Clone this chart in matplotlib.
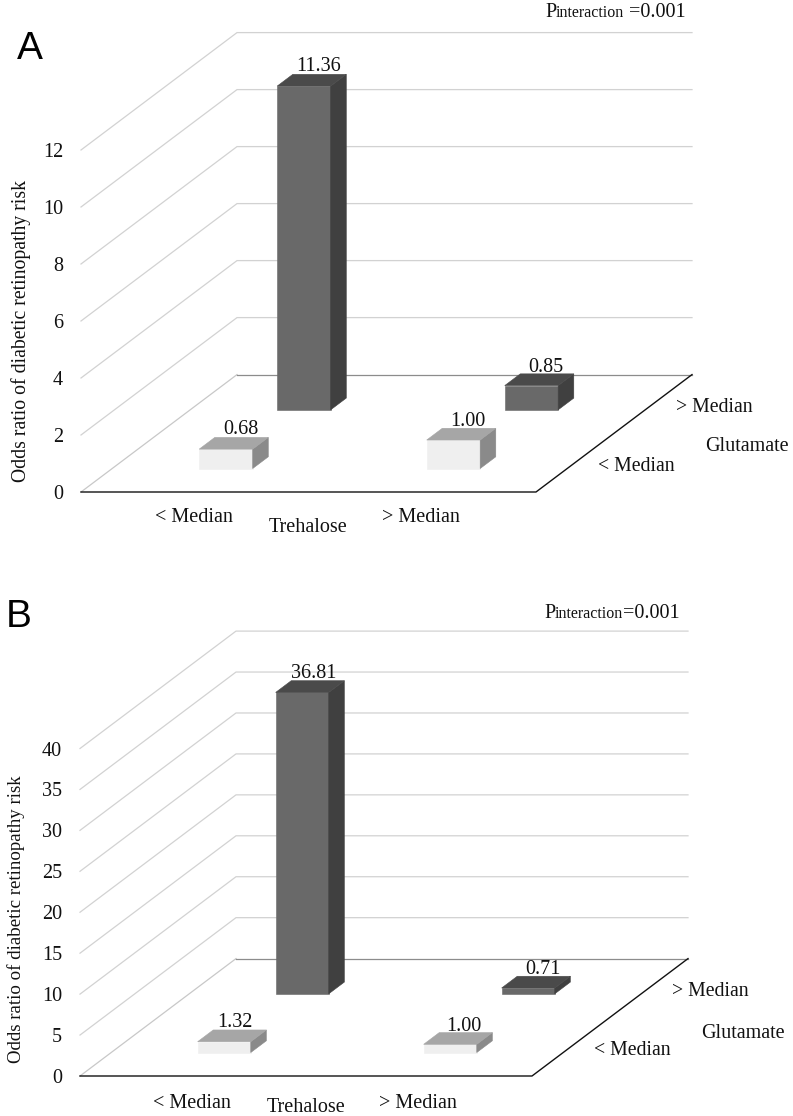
import matplotlib
matplotlib.use("Agg")
import matplotlib.pyplot as plt

plt.rcParams['font.family'] = ['Liberation Serif', 'DejaVu Serif']

W, H = 793, 1116

trehalose_levels = ["< Median", "> Median"]
glutamate_levels = ["< Median", "> Median"]

# rows are glutamate level, columns are trehalose level
odds_a = [[0.68, 1.00], [11.36, 0.85]]
odds_b = [[1.32, 1.00], [36.81, 0.71]]
ticks_a = [0, 2, 4, 6, 8, 10, 12]
ticks_b = [0, 5, 10, 15, 20, 25, 30, 35, 40]

ylabel = "Odds ratio of diabetic retinopathy risk"
xlabel = "Trehalose"
zlabel = "Glutamate"

BAR_W = 0.235
BAR_D = 0.2
DEPTH_X = 78  # px per glutamate row
DEPTH_Y = 58.7
FS = 14.5
INK = "#111111"

LIGHT = ("#efefef", "#a6a6a6", "#8a8a8a")
DARK = ("#696969", "#4a4a4a", "#404040")


def pinteraction(x, y, gap):
    # P and the value are set larger than the word in between
    r = fig.canvas.get_renderer()
    for s, size, extra in [("P", FS, 0), ("interaction", 11.5, gap), ("=0.001", FS, 0)]:
        t = fig.text(x / W, 1 - y / H, s, fontsize=size, ha="left", va="baseline", color=INK)
        x = t.get_window_extent(r).x1 + extra


def draw_panel(x0, y0, width, ymax_px, odds, ticks, letter, letter_xy, gap, pval_xy, ylab_xy, ylab_fs,
               cat_dy, xlab_dy, zlab_dy, nudges):
    ux = width / 2
    uy = ymax_px / ticks[-1]
    ddx = DEPTH_X / ux
    ddy = DEPTH_Y / uy
    top = ticks[-1] + 2 * ddy
    right = 2 + 2 * ddx
    ax = fig.add_axes([x0 / W, 1 - y0 / H, right * ux / W, top * uy / H])
    ax.set_xlim(0, right)
    ax.set_ylim(0, top)
    ax.axis("off")

    def proj(x, d, v):
        return x + d * ddx, v + d * ddy

    def label(x, d, v, s, dx, dy, **kw):
        ax.annotate(s, proj(x, d, v), xytext=(dx * 0.72, -dy * 0.72), textcoords="offset points",
                    annotation_clip=False, **kw)

    # walls
    for t in ticks[1:]:
        xs, ys = zip(proj(0, 0, t), proj(0, 2, t), proj(2, 2, t))
        ax.plot(xs, ys, color="#d2d2d2", lw=0.9, clip_on=False, zorder=1)
    xs, ys = zip(proj(0, 0, 0), proj(0, 2, 0))
    ax.plot(xs, ys, color="#c8c8c8", lw=0.9, clip_on=False, zorder=1)
    xs, ys = zip(proj(0, 2, 0), proj(2, 2, 0))
    ax.plot(xs, ys, color="#8c8c8c", lw=0.9, clip_on=False, zorder=1)
    # floor edges
    xs, ys = zip(proj(0, 0, 0), proj(2, 0, 0), proj(2, 2, 0))
    ax.plot(xs, ys, color=INK, lw=1.0, clip_on=False, zorder=2)

    for t in ticks:
        label(0, 0, t, str(t), -18, 2.5, ha="right", va="center", fontsize=FS, color=INK)

    # bars, back row first
    for r in [1, 0]:
        front, top_c, side = DARK if r == 1 else LIGHT
        for c in [0, 1]:
            v = odds[r][c]
            x1 = c + 0.5 - BAR_W / 2
            x2 = c + 0.5 + BAR_W / 2
            d1 = r + 0.5 - BAR_D / 2
            d2 = r + 0.5 + BAR_D / 2
            xs, ys = zip(proj(x1, d1, 0), proj(x2, d1, 0), proj(x2, d1, v), proj(x1, d1, v))
            ax.fill(xs, ys, color=front, lw=0.4, clip_on=False, zorder=3)
            xs, ys = zip(proj(x2, d1, 0), proj(x2, d2, 0), proj(x2, d2, v), proj(x2, d1, v))
            ax.fill(xs, ys, color=side, lw=0.4, clip_on=False, zorder=3)
            xs, ys = zip(proj(x1, d1, v), proj(x2, d1, v), proj(x2, d2, v), proj(x1, d2, v))
            ax.fill(xs, ys, color=top_c, lw=0.4, clip_on=False, zorder=3)
            nx, ny = nudges[r][c]
            label(c + 0.5, d2, v, "%.2f" % v, nx, ny, ha="center", va="bottom", fontsize=FS,
                  color=INK, zorder=4)

    for c, s in enumerate(trehalose_levels):
        label(c + 0.5, 0, 0, s, -1, cat_dy, ha="center", va="center", fontsize=FS, color=INK)
    label(1, 0, 0, xlabel, 0, xlab_dy, ha="center", va="center", fontsize=FS, color=INK)
    for r, s in enumerate(glutamate_levels):
        label(2, r + 0.5, 0, s, 23, 4, ha="left", va="center", fontsize=14.2, color=INK)
    label(2, 0, 0, zlabel, 211, zlab_dy, ha="center", va="center", fontsize=FS, color=INK)
    label(0, 0, 0, ylabel, ylab_xy[0], -ylab_xy[1], ha="center", va="center", rotation=90, fontsize=ylab_fs, color=INK)

    fig.text(letter_xy[0] / W, 1 - letter_xy[1] / H, letter, family="Liberation Sans", fontsize=28,
             ha="left", va="center", color="black")
    pinteraction(pval_xy[0], pval_xy[1], gap)


fig = plt.figure(figsize=(W / 100, H / 100), dpi=100, facecolor="white")

draw_panel(81, 492, 455, 342, odds_a, ticks_a, "A", (17, 49), 5, (545, 17), (-60, 161), 14.2,
           25, 35, -46, [[(-1, 2), (-1, 3)], [(-1, 2), (-1, 3)]])
draw_panel(80, 1076, 452, 327.5, odds_b, ticks_b, "B", (6, 617), 0, (544, 618), (-64, 157), 13.6,
           27, 31.5, -43, [[(-5, 2), (-2, 3)], [(-4, 2), (-1, 3)]])

fig.savefig("out.png", dpi=100)
